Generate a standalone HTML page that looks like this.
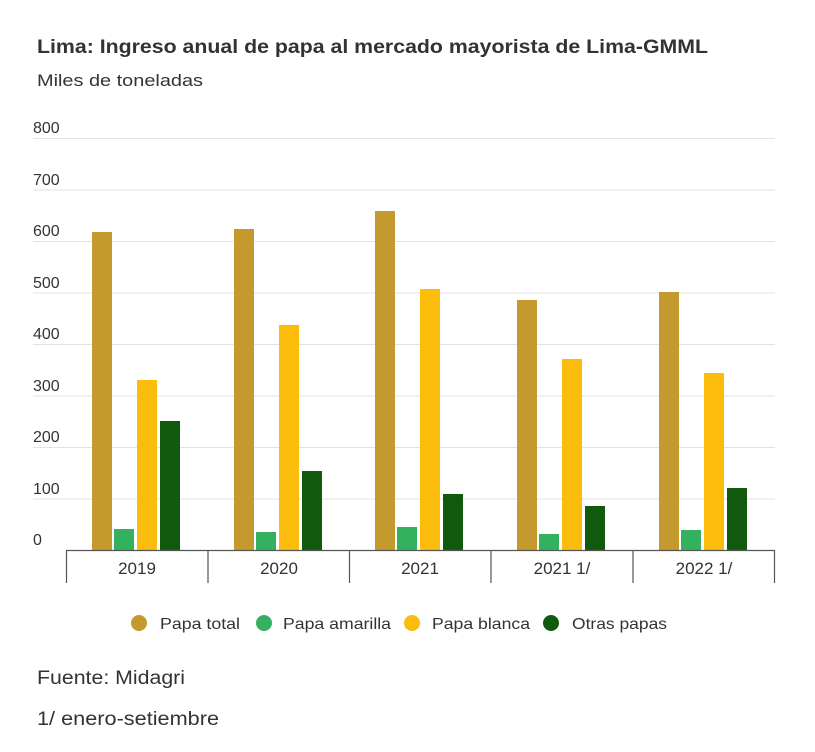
<!DOCTYPE html>
<html><head><style>
body{margin:0;background:#fff;font-family:"Liberation Sans",sans-serif;}
</style></head><body>
<svg width="815" height="747" xmlns="http://www.w3.org/2000/svg" font-family="Liberation Sans, sans-serif">
<rect width="815" height="747" fill="#fff"/>
<text x="37" y="53" font-size="19" font-weight="bold" fill="#333" textLength="671" lengthAdjust="spacingAndGlyphs">Lima: Ingreso anual de papa al mercado mayorista de Lima-GMML</text>
<text x="37" y="86" font-size="17" fill="#333" textLength="166" lengthAdjust="spacingAndGlyphs">Miles de toneladas</text>
<g stroke="#e2e2e2" stroke-width="1">
<line x1="33" x2="775" y1="138.5" y2="138.5"/><line x1="33" x2="775" y1="190" y2="190"/>
<line x1="33" x2="775" y1="241.5" y2="241.5"/><line x1="33" x2="775" y1="293" y2="293"/>
<line x1="33" x2="775" y1="344.5" y2="344.5"/><line x1="33" x2="775" y1="396" y2="396"/>
<line x1="33" x2="775" y1="447.5" y2="447.5"/><line x1="33" x2="775" y1="499" y2="499"/>
</g>
<g font-size="16" fill="#333">
<text x="33" y="133">800</text><text x="33" y="185">700</text><text x="33" y="236">600</text>
<text x="33" y="288">500</text><text x="33" y="339">400</text><text x="33" y="391">300</text>
<text x="33" y="442">200</text><text x="33" y="494">100</text><text x="33" y="545">0</text>
</g>
<g>
<rect x="92" y="232" width="20" height="318" fill="#c49a2f"/>
<rect x="114" y="529" width="20" height="21" fill="#34b15e"/>
<rect x="137" y="380" width="20" height="170" fill="#fbbc0b"/>
<rect x="160" y="421" width="20" height="129" fill="#115a0d"/>
<rect x="234" y="229" width="20" height="321" fill="#c49a2f"/>
<rect x="256" y="532" width="20" height="18" fill="#34b15e"/>
<rect x="279" y="325" width="20" height="225" fill="#fbbc0b"/>
<rect x="302" y="471" width="20" height="79" fill="#115a0d"/>
<rect x="375" y="211" width="20" height="339" fill="#c49a2f"/>
<rect x="397" y="527" width="20" height="23" fill="#34b15e"/>
<rect x="420" y="289" width="20" height="261" fill="#fbbc0b"/>
<rect x="443" y="494" width="20" height="56" fill="#115a0d"/>
<rect x="517" y="300" width="20" height="250" fill="#c49a2f"/>
<rect x="539" y="534" width="20" height="16" fill="#34b15e"/>
<rect x="562" y="359" width="20" height="191" fill="#fbbc0b"/>
<rect x="585" y="506" width="20" height="44" fill="#115a0d"/>
<rect x="659" y="292" width="20" height="258" fill="#c49a2f"/>
<rect x="681" y="530" width="20" height="20" fill="#34b15e"/>
<rect x="704" y="373" width="20" height="177" fill="#fbbc0b"/>
<rect x="727" y="488" width="20" height="62" fill="#115a0d"/>
</g>
<g stroke="#555" stroke-width="1.2">
<line x1="66" x2="775" y1="550.5" y2="550.5"/>
<line x1="66.5" x2="66.5" y1="550" y2="583"/><line x1="208" x2="208" y1="550" y2="583"/>
<line x1="349.5" x2="349.5" y1="550" y2="583"/><line x1="491" x2="491" y1="550" y2="583"/>
<line x1="633" x2="633" y1="550" y2="583"/><line x1="774.5" x2="774.5" y1="550" y2="583"/>
</g>
<g font-size="17" fill="#333" text-anchor="middle">
<text x="137" y="574">2019</text><text x="279" y="574">2020</text><text x="420" y="574">2021</text>
<text x="562" y="574">2021 1/</text><text x="704" y="574">2022 1/</text>
</g>
<g font-size="16" fill="#333">
<circle cx="139" cy="623" r="8" fill="#c49a2f"/><text x="160" y="629" textLength="80" lengthAdjust="spacingAndGlyphs">Papa total</text>
<circle cx="264" cy="623" r="8" fill="#34b15e"/><text x="283" y="629" textLength="108" lengthAdjust="spacingAndGlyphs">Papa amarilla</text>
<circle cx="412" cy="623" r="8" fill="#fbbc0b"/><text x="432" y="629" textLength="98" lengthAdjust="spacingAndGlyphs">Papa blanca</text>
<circle cx="551" cy="623" r="8" fill="#115a0d"/><text x="572" y="629" textLength="95" lengthAdjust="spacingAndGlyphs">Otras papas</text>
</g>
<text x="37" y="684" font-size="19" fill="#333" textLength="148" lengthAdjust="spacingAndGlyphs">Fuente: Midagri</text>
<text x="37" y="725" font-size="19" fill="#333" textLength="182" lengthAdjust="spacingAndGlyphs">1/ enero-setiembre</text>
</svg>
</body></html>
